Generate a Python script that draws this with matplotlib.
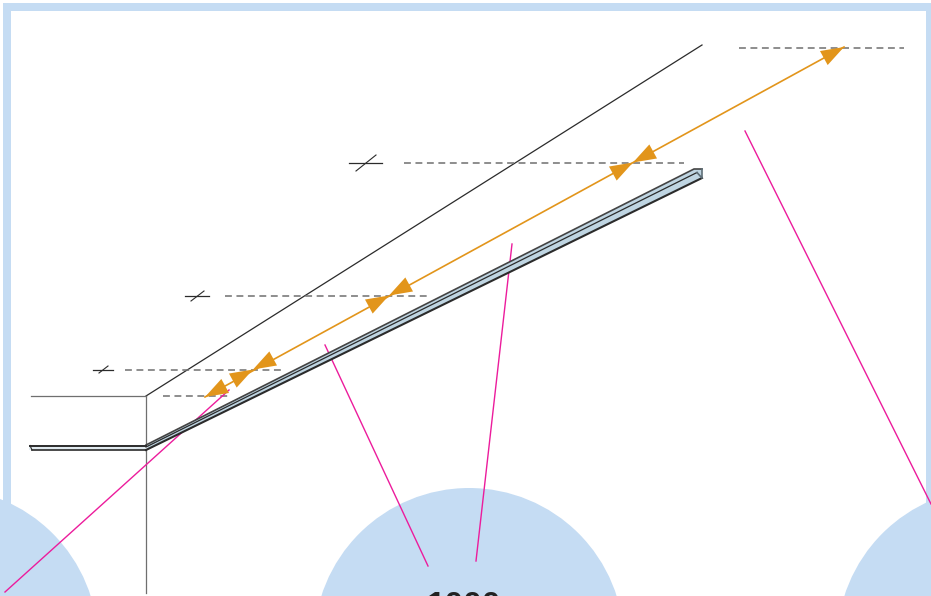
"""Roof section sketch, drawn in pixel coordinates of the 931x596 figure."""
import matplotlib
matplotlib.use('Agg')
import matplotlib.pyplot as plt
from matplotlib.patches import Circle, Polygon, Rectangle

W, H = 931, 596
BLUE = '#c5dcf3'
ORANGE = '#e2951b'
PINK = '#ec1c9c'
DARK = '#2b2b2b'
GREY = '#6f6f6f'

# frame and big circles
circle_x = [-57, 469, 992]
circle_y = [643, 643, 643]
circle_r = 155

# thin construction lines
thin_x = [[146, 702], [31, 146], [146, 146]]
thin_y = [[396, 45], [396, 396], [396, 593]]

# dashed levels: x0, x1, y
dash_x0 = [163, 125, 225, 404, 739]
dash_x1 = [231, 281, 427, 684, 904]
dash_y = [396, 369.5, 295.5, 162.5, 48]

# short level marks and the slanted tick through each
mark_x0 = [93, 185, 349]
mark_x1 = [113, 209, 382]
mark_y = [369.5, 295.5, 162.5]
tick_x0 = [99, 191, 356]
tick_x1 = [108, 204, 376]
tick_y0 = [373, 301, 171]
tick_y1 = [366, 291, 155]

# leader lines
leader_x = [[5, 229], [325, 428], [512, 476], [745, 931]]
leader_y = [[592, 390], [345, 566], [244, 561], [131, 504]]

# orange dimension line and its arrows (tip x, tip y, direction 1 = up the slope)
dim_x = [205, 844]
dim_y = [397, 47]
arrow_tip_x = [205, 253, 389, 633, 844, 253, 389, 633]
arrow_tip_y = [397, 369.5, 295.5, 162.5, 47, 369.5, 295.5, 162.5]
arrow_dir = [-1, 1, 1, 1, 1, -1, -1, -1]

# gutter profile
slope_top_x = [146, 694, 702]
slope_top_y = [445, 169, 169]
slope_mid_x = [146, 697]
slope_mid_y = [447, 172.5]
slope_bot_x = [146, 702]
slope_bot_y = [450, 178]
flat_x = [30, 146]
flat_top_y = [445.5, 445.5]
flat_bot_y = [450, 450]

fig = plt.figure(figsize=(W / 100, H / 100), dpi=100)
ax = fig.add_axes([0, 0, 1, 1])
ax.set_xlim(0, W)
ax.set_ylim(H, 0)
ax.axis('off')

ax.add_patch(Rectangle((3, 3), W + 10, H + 10, fc=BLUE, ec='none', zorder=1))
ax.add_patch(Rectangle((11, 11), 915, H, fc='white', ec='none', zorder=1))
for cx, cy in zip(circle_x, circle_y):
    ax.add_patch(Circle((cx, cy), circle_r, fc=BLUE, ec='none', zorder=2))

for xs, ys in zip(thin_x, thin_y):
    ax.plot(xs, ys, color=GREY if xs[0] == xs[1] or ys[0] == ys[1] else DARK,
            lw=0.9, zorder=3)

for x0, x1, y in zip(dash_x0, dash_x1, dash_y):
    ax.plot([x0, x1], [y, y], color=GREY, lw=1.1, dashes=(4.5, 3), zorder=3)
for x0, x1, y in zip(mark_x0, mark_x1, mark_y):
    ax.plot([x0, x1], [y, y], color=DARK, lw=0.9, zorder=3)
for x0, x1, y0, y1 in zip(tick_x0, tick_x1, tick_y0, tick_y1):
    ax.plot([x0, x1], [y0, y1], color=DARK, lw=0.8, zorder=3)

for xs, ys in zip(leader_x, leader_y):
    ax.plot(xs, ys, color=PINK, lw=1.0, zorder=4)

# gutter
outline = list(zip(slope_top_x + [702] + slope_bot_x[::-1],
                   slope_top_y + [178] + slope_bot_y[::-1]))
ax.add_patch(Polygon(outline, closed=True, fc='#bfd5e2', ec='none', zorder=5))
ax.plot(slope_top_x, slope_top_y, color='#444444', lw=1.2, zorder=6)
ax.plot(slope_mid_x, slope_mid_y, color=DARK, lw=0.9, zorder=6)
ax.plot(slope_bot_x, slope_bot_y, color=DARK, lw=1.5, zorder=6)
ax.plot([697, 702, 702], [172.5, 178, 169], color='#5f6f78', lw=1.2, zorder=6)
ax.plot(flat_x, [447.7, 447.7], color='#dfe9ef', lw=2, zorder=5)
ax.plot(flat_x, flat_top_y, color=DARK, lw=1.4, zorder=6)
ax.plot([32, 146], flat_bot_y, color=DARK, lw=1.2, zorder=6)
ax.plot([30, 32], [445.5, 450], color=DARK, lw=0.8, zorder=6)

# orange dimension
ax.plot(dim_x, dim_y, color=ORANGE, lw=1.2, zorder=7)
ux, uy = 0.877, -0.480
for tx, ty, d in zip(arrow_tip_x, arrow_tip_y, arrow_dir):
    bx, by = tx - d * 23 * ux, ty - d * 23 * uy
    px, py = -uy * 8, ux * 8
    ax.add_patch(Polygon([(tx, ty), (bx + px, by + py), (bx - px, by - py)],
                         closed=True, fc=ORANGE, ec='none', zorder=8))

# only the top of this label falls inside the crop
ax.text(464, 615, '1000', color='#222222', fontsize=24, fontweight='bold',
        family='Liberation Sans', ha='center', va='baseline', zorder=9)

fig.savefig('out.png', dpi=100)
